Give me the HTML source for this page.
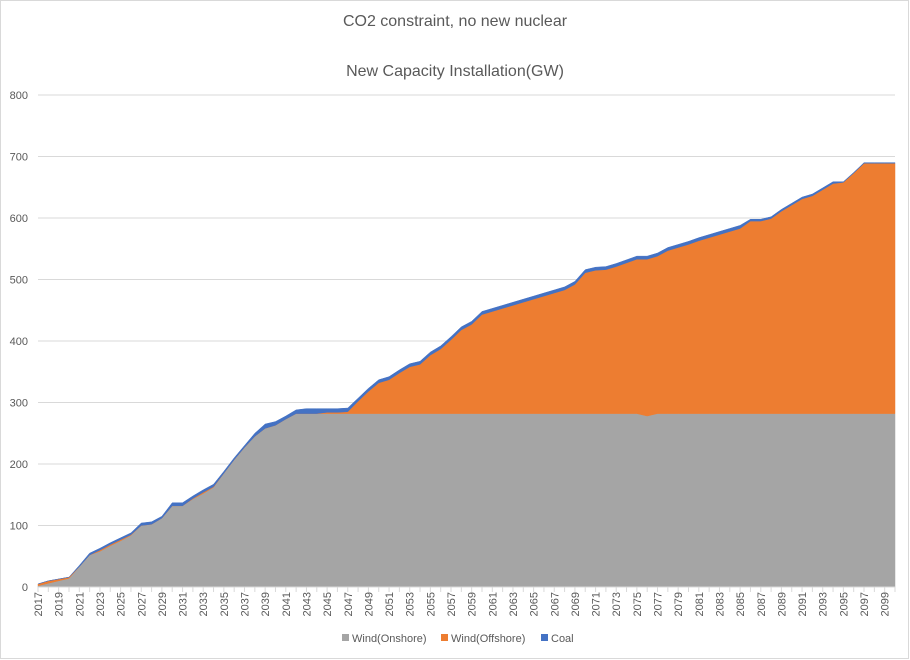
<!DOCTYPE html>
<html><head><meta charset="utf-8">
<style>
html,body{margin:0;padding:0;background:#fff;}
body{width:910px;height:660px;overflow:hidden;font-family:"Liberation Sans",sans-serif;}
</style></head>
<body>
<svg id="chart" width="910" height="660" xmlns="http://www.w3.org/2000/svg" style="display:block">
<rect x="0.5" y="0.5" width="908" height="658" fill="#fff" stroke="#d9d9d9"/>
<text x="455" y="26" text-anchor="middle" font-size="16" fill="#595959">CO2 constraint, no new nuclear</text>
<text x="455" y="76" text-anchor="middle" font-size="16" fill="#595959">New Capacity Installation(GW)</text>
<g id="grid"></g><g id="areas"></g><g id="axes"></g>
<g font-size="11" fill="#595959">
<rect x="342" y="634" width="7" height="7" fill="#a5a5a5"/>
<text x="352" y="642">Wind(Onshore)</text>
<rect x="441" y="634" width="7" height="7" fill="#ed7d31"/>
<text x="451" y="642">Wind(Offshore)</text>
<rect x="541" y="634" width="7" height="7" fill="#4472c4"/>
<text x="551" y="642">Coal</text>
</g>
</svg>
<script>
const startYear = 2017;
const onshore = [2,6,10,14,33,52,58,67,75,84,100,102,112,132,132,143,152,162,185,207,227,245,258,263,273,282,282,282,282,282,282,282,282,282,282,282,282,282,282,282,282,282,282,282,282,282,282,282,282,282,282,282,282,282,282,282,282,282,282,278,282,282,282,282,282,282,282,282,282,282,282,282,282,282,282,282,282,282,282,282,282,282,282,282];
const offshore = [3,4,3,2,0,0,2,2,2,1,0,0,0,0,0,1,2,1,0,0,0,0,0,0,0,0,0,0,2,2,3,20,36,50,55,66,76,80,95,105,120,136,145,161,166,171,176,181,186,191,196,201,210,229,233,234,239,245,251,255,256,265,270,275,281,286,291,296,301,313,313,317,329,339,349,354,364,374,376,391,407,407,407,407];
const coal = [0,0,0,0,2,3,3,3,3,3,4,4,3,5,5,4,4,4,3,3,3,5,7,6,5,6,8,8,6,6,6,5,5,5,5,5,5,5,5,5,5,5,5,5,5,5,5,5,5,5,5,5,5,5,5,5,5,5,5,5,5,5,5,5,5,5,5,5,5,3,3,3,3,3,3,3,3,3,1,1,1,1,1,1];
const yTicks = [0,100,200,300,400,500,600,700,800];

const NS="http://www.w3.org/2000/svg";
const X0=38, X1=895, Y0=587, Y800=95;
const n=onshore.length;
function xs(i){return X0+(X1-X0)*i/(n-1);}
function ys(v){return Y0-(Y0-Y800)*v/800;}
function mk(tag,attrs,parent){const e=document.createElementNS(NS,tag);for(const k in attrs)e.setAttribute(k,attrs[k]);parent.appendChild(e);return e;}
const grid=document.getElementById('grid'),areas=document.getElementById('areas'),axes=document.getElementById('axes');
yTicks.forEach(t=>{
  const l=mk('line',{x1:X0,x2:X1,y1:ys(t),y2:ys(t),stroke:'#d9d9d9','stroke-width':1},grid);
  
  
  const tx=mk('text',{x:28,y:ys(t)+4,'text-anchor':'end','font-size':11,fill:'#595959'},axes);
  tx.textContent=t;
  
  
});
const series=[[onshore,'#a5a5a5','area-onshore'],[offshore,'#ed7d31','area-offshore'],[coal,'#4472c4','area-coal']];
let base=new Array(n).fill(0);
series.forEach(([vals,col,name])=>{
  const top=base.map((b,i)=>b+vals[i]);
  let d='M'+xs(0)+','+ys(top[0]);
  for(let i=1;i<n;i++)d+='L'+xs(i)+','+ys(top[i]);
  for(let i=n-1;i>=0;i--)d+='L'+xs(i)+','+ys(base[i]);
  d+='Z';
  const p=mk('path',{d:d,fill:col,stroke:col,'stroke-width':0.5},areas);
  
  
  base=top;
});
const ax=mk('line',{x1:X0,x2:X1,y1:Y0,y2:Y0,stroke:'#d9d9d9'},axes);


for(let i=0;i<n;i++){
  const tk=mk('line',{x1:xs(i),x2:xs(i),y1:Y0,y2:Y0+5,stroke:'#d9d9d9'},axes);
  
  
  if(i%2===0){
    const x=xs(i)+4, y=Y0+5;
    const t=mk('text',{x:x,y:y,'text-anchor':'end','font-size':11,fill:'#595959',transform:'rotate(-90 '+x+' '+y+')'},axes);
    t.textContent=startYear+i;
    
    
  }
}
</script>
</body></html>
